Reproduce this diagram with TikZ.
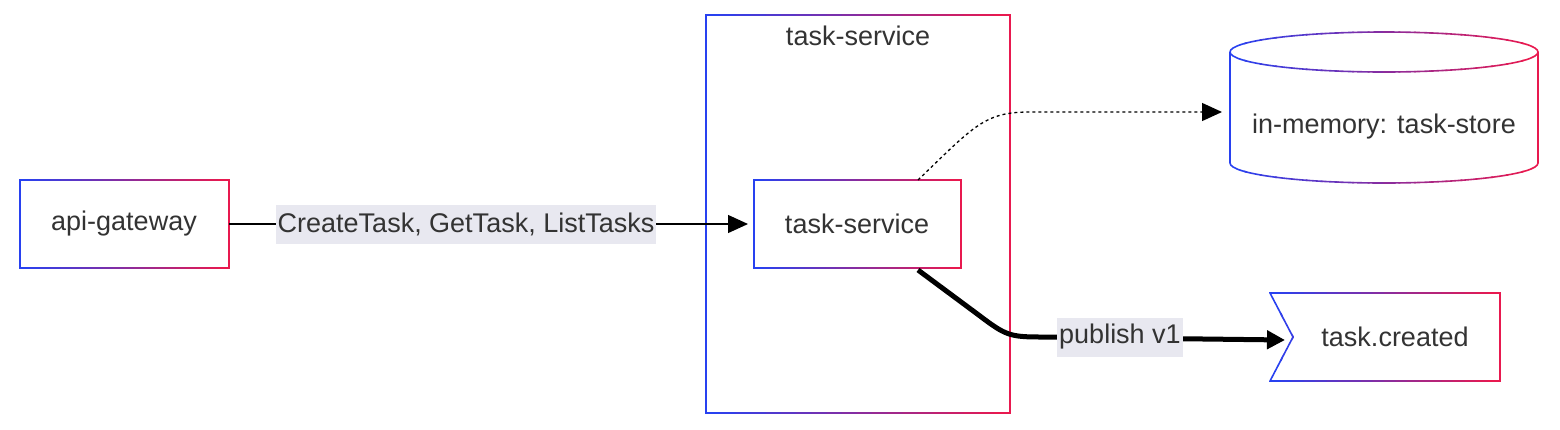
\documentclass[tikz,border=0pt]{standalone}
\usepackage{fontspec}
\setmainfont{Liberation Sans}
\usetikzlibrary{arrows.meta}
\definecolor{gblue}{HTML}{2841F0}
\definecolor{gred}{HTML}{E8194F}
\definecolor{lblbg}{HTML}{E8E8F0}
\definecolor{txt}{HTML}{333333}
% gradient stroke: #1 = path, #2,#3 = x range
\newcommand{\gradstroke}[3]{%
  \foreach \i in {0,...,19}{%
    \pgfmathsetmacro{\pc}{100-\i*100/19}%
    \begin{scope}
      \clip ({#2+(#3-#2)*\i/20-1},-10) rectangle ({#2+(#3-#2)*(\i+1)/20+1},440);
      \draw[line width=1.6pt,color=gblue!\pc!gred] #1;
    \end{scope}}}
\begin{document}
\begin{tikzpicture}[x=1pt,y=-1pt,
  lbl/.style={fill=lblbg,inner sep=2pt,text=txt,font=\fontsize{27}{30}\selectfont,minimum height=39pt},
  txt/.style={text=txt,font=\fontsize{27}{30}\selectfont}]
\useasboundingbox (0,0) rectangle (1560,429);
% shapes
\gradstroke{(20,180) rectangle (229,268)}{20}{229}
\gradstroke{(706,15) rectangle (1010,413)}{706}{1010}
\gradstroke{(754,180) rectangle (961,268)}{754}{961}
\gradstroke{(1230,52) arc[start angle=180,end angle=-180,x radius=154,y radius=20] (1230,52) -- (1230,163) arc[start angle=180,end angle=0,x radius=154,y radius=20] -- (1538,52)}{1230}{1538}
\gradstroke{(1270,293) -- (1500,293) -- (1500,381) -- (1270,381) -- (1293,337) -- cycle}{1270}{1500}
% nodes
\node[txt] (api) at (124,224) {api-gateway};
\node[txt] (cont) at (858,36) {task-service};
\node[txt] (ts) at (857,224) {task-service};
\node[txt] (store) at (1384,127) {in-memory: task-store};
\node[txt] (tc) at (1395,337) {task.created};
\coordinate (apiE) at (229,224);
\coordinate (tsW) at (748,224);
\coordinate (tsT) at (918,180);
\coordinate (tsB) at (918,270);
\coordinate (stW) at (1222,112);
\coordinate (tcW) at (1285,340);
% edges
\draw[line width=1.3pt,-{Triangle[length=20pt,width=18pt]}] (apiE) -- (tsW);
\node[lbl] (cl) at (466,224) {CreateTask, GetTask, ListTasks};
\draw[line width=1.3pt,dash pattern=on 3pt off 3pt,-{Triangle[length=20pt,width=18pt]}] (tsT) .. controls (975,125) and (985,112) .. (1030,112) -- (stW);
\draw[line width=5pt,-{Triangle[length=18pt,width=18pt]}] (tsB) -- (980,316) .. controls (1005,335) and (1010,337) .. (1040,337) -- (tcW);
\node[lbl] (pub) at (1120,337) {publish v1};
\end{tikzpicture}
\end{document}
